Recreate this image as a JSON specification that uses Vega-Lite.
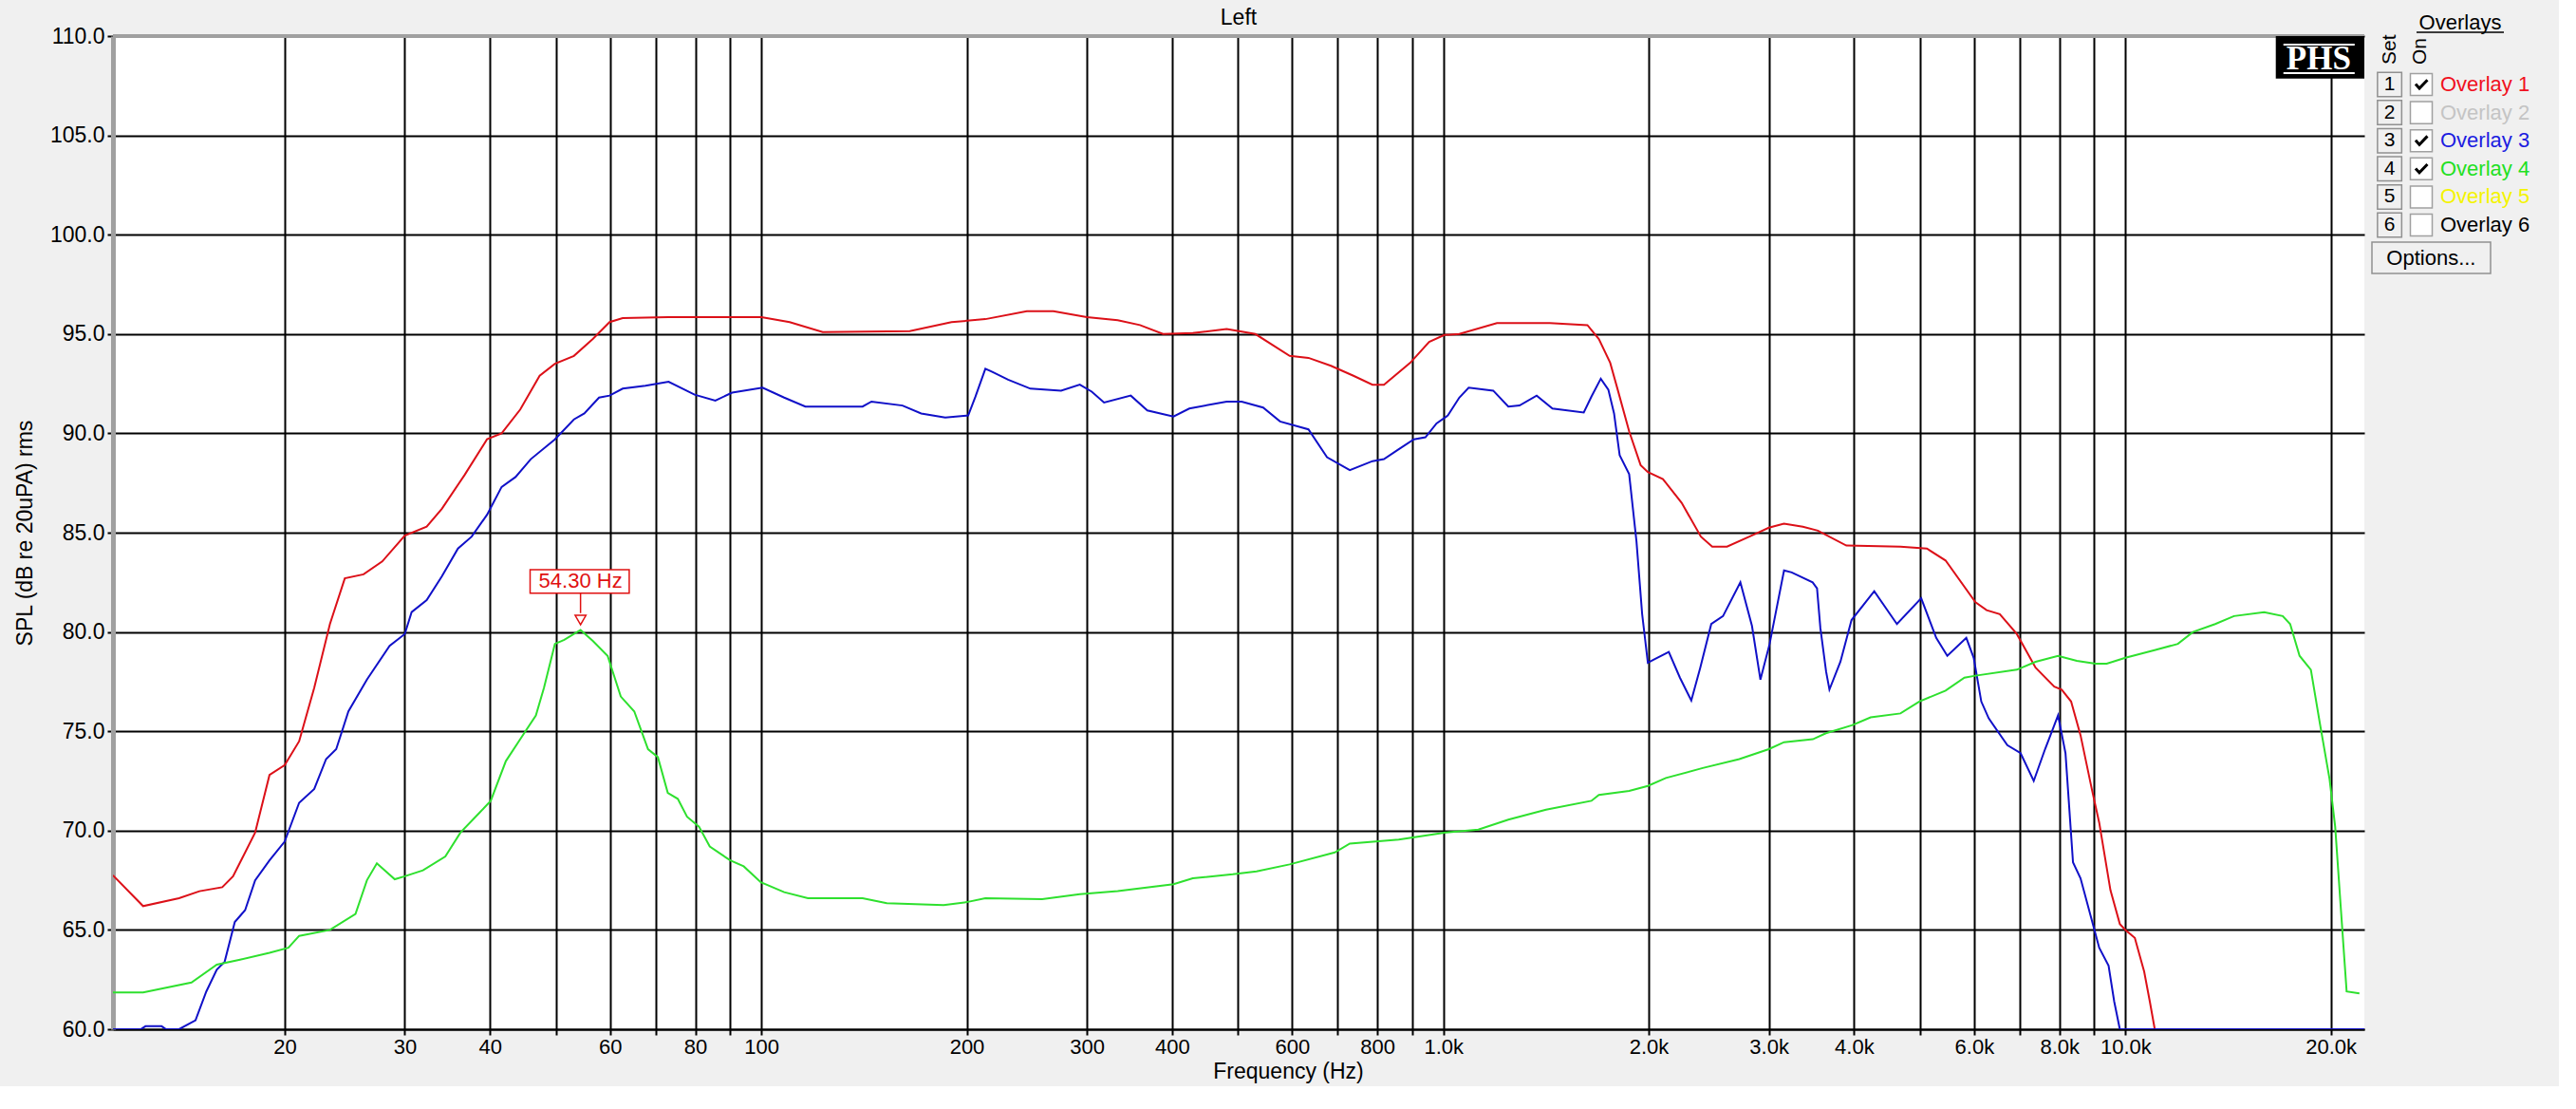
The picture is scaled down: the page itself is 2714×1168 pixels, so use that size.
{
  "$schema": "https://vega.github.io/schema/vega-lite/v6.json",
  "background": "#f0f0f0",
  "padding": {"left": 15, "top": 8, "right": 5, "bottom": 4},
  "bounds": "flush",
  "spacing": 0,
  "config": {"font": "Liberation Sans", "view": {"stroke": null}},
  "resolve": {"scale": {"color": "independent", "x": "independent", "y": "independent"}},
  "datasets": {
    "curves": [
      {"s": "Overlay 1", "f": 11.2, "db": 67.75}, {"s": "Overlay 1", "f": 12.4, "db": 66.2}, {"s": "Overlay 1", "f": 14.0, "db": 66.6},
      {"s": "Overlay 1", "f": 15.0, "db": 66.95}, {"s": "Overlay 1", "f": 16.2, "db": 67.15}, {"s": "Overlay 1", "f": 16.8, "db": 67.7},
      {"s": "Overlay 1", "f": 18.1, "db": 69.9}, {"s": "Overlay 1", "f": 19.0, "db": 72.8}, {"s": "Overlay 1", "f": 20.0, "db": 73.3},
      {"s": "Overlay 1", "f": 21.0, "db": 74.5}, {"s": "Overlay 1", "f": 22.1, "db": 77.2}, {"s": "Overlay 1", "f": 23.3, "db": 80.4},
      {"s": "Overlay 1", "f": 24.5, "db": 82.7}, {"s": "Overlay 1", "f": 26.1, "db": 82.9}, {"s": "Overlay 1", "f": 27.8, "db": 83.55},
      {"s": "Overlay 1", "f": 30.0, "db": 84.85}, {"s": "Overlay 1", "f": 32.3, "db": 85.3}, {"s": "Overlay 1", "f": 34.0, "db": 86.2},
      {"s": "Overlay 1", "f": 36.7, "db": 87.9}, {"s": "Overlay 1", "f": 39.6, "db": 89.7}, {"s": "Overlay 1", "f": 41.6, "db": 90.0},
      {"s": "Overlay 1", "f": 44.3, "db": 91.2}, {"s": "Overlay 1", "f": 47.3, "db": 92.9}, {"s": "Overlay 1", "f": 49.8, "db": 93.5},
      {"s": "Overlay 1", "f": 53.1, "db": 93.9}, {"s": "Overlay 1", "f": 56.6, "db": 94.75}, {"s": "Overlay 1", "f": 59.9, "db": 95.6},
      {"s": "Overlay 1", "f": 62.6, "db": 95.8}, {"s": "Overlay 1", "f": 73, "db": 95.85}, {"s": "Overlay 1", "f": 100, "db": 95.85},
      {"s": "Overlay 1", "f": 110, "db": 95.6}, {"s": "Overlay 1", "f": 123, "db": 95.1}, {"s": "Overlay 1", "f": 165, "db": 95.15},
      {"s": "Overlay 1", "f": 190, "db": 95.6}, {"s": "Overlay 1", "f": 213, "db": 95.75}, {"s": "Overlay 1", "f": 245, "db": 96.15},
      {"s": "Overlay 1", "f": 268, "db": 96.15}, {"s": "Overlay 1", "f": 300, "db": 95.85}, {"s": "Overlay 1", "f": 333, "db": 95.7},
      {"s": "Overlay 1", "f": 359, "db": 95.45}, {"s": "Overlay 1", "f": 388, "db": 95.0}, {"s": "Overlay 1", "f": 429, "db": 95.05},
      {"s": "Overlay 1", "f": 481, "db": 95.25}, {"s": "Overlay 1", "f": 530, "db": 95.0}, {"s": "Overlay 1", "f": 595, "db": 93.9},
      {"s": "Overlay 1", "f": 634, "db": 93.8}, {"s": "Overlay 1", "f": 684, "db": 93.4}, {"s": "Overlay 1", "f": 738, "db": 92.9},
      {"s": "Overlay 1", "f": 787, "db": 92.45}, {"s": "Overlay 1", "f": 818, "db": 92.45}, {"s": "Overlay 1", "f": 894, "db": 93.55},
      {"s": "Overlay 1", "f": 953, "db": 94.6}, {"s": "Overlay 1", "f": 1003, "db": 94.95}, {"s": "Overlay 1", "f": 1055, "db": 95.0},
      {"s": "Overlay 1", "f": 1198, "db": 95.55}, {"s": "Overlay 1", "f": 1432, "db": 95.55}, {"s": "Overlay 1", "f": 1626, "db": 95.45},
      {"s": "Overlay 1", "f": 1690, "db": 94.75}, {"s": "Overlay 1", "f": 1756, "db": 93.55}, {"s": "Overlay 1", "f": 1801, "db": 92.2},
      {"s": "Overlay 1", "f": 1872, "db": 90.1}, {"s": "Overlay 1", "f": 1946, "db": 88.4}, {"s": "Overlay 1", "f": 1994, "db": 88.05},
      {"s": "Overlay 1", "f": 2098, "db": 87.7}, {"s": "Overlay 1", "f": 2235, "db": 86.5}, {"s": "Overlay 1", "f": 2385, "db": 84.8},
      {"s": "Overlay 1", "f": 2478, "db": 84.3}, {"s": "Overlay 1", "f": 2605, "db": 84.3}, {"s": "Overlay 1", "f": 2850, "db": 84.9},
      {"s": "Overlay 1", "f": 3000, "db": 85.25}, {"s": "Overlay 1", "f": 3157, "db": 85.45}, {"s": "Overlay 1", "f": 3365, "db": 85.3},
      {"s": "Overlay 1", "f": 3540, "db": 85.1}, {"s": "Overlay 1", "f": 3897, "db": 84.35}, {"s": "Overlay 1", "f": 4678, "db": 84.3},
      {"s": "Overlay 1", "f": 5115, "db": 84.2}, {"s": "Overlay 1", "f": 5448, "db": 83.6}, {"s": "Overlay 1", "f": 6027, "db": 81.5},
      {"s": "Overlay 1", "f": 6258, "db": 81.1}, {"s": "Overlay 1", "f": 6543, "db": 80.9}, {"s": "Overlay 1", "f": 6929, "db": 79.9},
      {"s": "Overlay 1", "f": 7383, "db": 78.2}, {"s": "Overlay 1", "f": 7864, "db": 77.25}, {"s": "Overlay 1", "f": 8063, "db": 77.1},
      {"s": "Overlay 1", "f": 8323, "db": 76.5}, {"s": "Overlay 1", "f": 8593, "db": 74.8}, {"s": "Overlay 1", "f": 8925, "db": 72.1},
      {"s": "Overlay 1", "f": 9152, "db": 70.4}, {"s": "Overlay 1", "f": 9506, "db": 67.0}, {"s": "Overlay 1", "f": 9812, "db": 65.3},
      {"s": "Overlay 1", "f": 10000, "db": 65.0}, {"s": "Overlay 1", "f": 10321, "db": 64.6}, {"s": "Overlay 1", "f": 10652, "db": 62.9},
      {"s": "Overlay 1", "f": 10857, "db": 61.4}, {"s": "Overlay 1", "f": 11040, "db": 60.0},

      {"s": "Overlay 3", "f": 11.2, "db": 60.0}, {"s": "Overlay 3", "f": 12.3, "db": 60.0}, {"s": "Overlay 3", "f": 12.5, "db": 60.15},
      {"s": "Overlay 3", "f": 13.2, "db": 60.15}, {"s": "Overlay 3", "f": 13.4, "db": 60.0}, {"s": "Overlay 3", "f": 14.0, "db": 60.0},
      {"s": "Overlay 3", "f": 14.8, "db": 60.45}, {"s": "Overlay 3", "f": 15.35, "db": 61.9}, {"s": "Overlay 3", "f": 15.9, "db": 63.0},
      {"s": "Overlay 3", "f": 16.33, "db": 63.4}, {"s": "Overlay 3", "f": 16.9, "db": 65.4}, {"s": "Overlay 3", "f": 17.5, "db": 66.0},
      {"s": "Overlay 3", "f": 18.1, "db": 67.5}, {"s": "Overlay 3", "f": 19.0, "db": 68.5}, {"s": "Overlay 3", "f": 20.0, "db": 69.45},
      {"s": "Overlay 3", "f": 21.0, "db": 71.4}, {"s": "Overlay 3", "f": 22.1, "db": 72.1}, {"s": "Overlay 3", "f": 23.0, "db": 73.6},
      {"s": "Overlay 3", "f": 23.8, "db": 74.1}, {"s": "Overlay 3", "f": 24.8, "db": 76.0}, {"s": "Overlay 3", "f": 26.4, "db": 77.6},
      {"s": "Overlay 3", "f": 28.5, "db": 79.3}, {"s": "Overlay 3", "f": 30.0, "db": 79.9}, {"s": "Overlay 3", "f": 30.7, "db": 81.0},
      {"s": "Overlay 3", "f": 32.3, "db": 81.6}, {"s": "Overlay 3", "f": 34.0, "db": 82.8}, {"s": "Overlay 3", "f": 35.9, "db": 84.2},
      {"s": "Overlay 3", "f": 37.6, "db": 84.8}, {"s": "Overlay 3", "f": 39.6, "db": 85.9}, {"s": "Overlay 3", "f": 41.6, "db": 87.3},
      {"s": "Overlay 3", "f": 43.6, "db": 87.8}, {"s": "Overlay 3", "f": 45.9, "db": 88.7}, {"s": "Overlay 3", "f": 49.8, "db": 89.7},
      {"s": "Overlay 3", "f": 53.1, "db": 90.7}, {"s": "Overlay 3", "f": 55.0, "db": 91.0}, {"s": "Overlay 3", "f": 57.8, "db": 91.8},
      {"s": "Overlay 3", "f": 59.9, "db": 91.9}, {"s": "Overlay 3", "f": 62.6, "db": 92.25}, {"s": "Overlay 3", "f": 67.6, "db": 92.4},
      {"s": "Overlay 3", "f": 73.1, "db": 92.6}, {"s": "Overlay 3", "f": 79.8, "db": 91.95}, {"s": "Overlay 3", "f": 85.6, "db": 91.65},
      {"s": "Overlay 3", "f": 90.6, "db": 92.05}, {"s": "Overlay 3", "f": 100.4, "db": 92.3}, {"s": "Overlay 3", "f": 108, "db": 91.8},
      {"s": "Overlay 3", "f": 116, "db": 91.35}, {"s": "Overlay 3", "f": 140.7, "db": 91.35}, {"s": "Overlay 3", "f": 145, "db": 91.6},
      {"s": "Overlay 3", "f": 161, "db": 91.4}, {"s": "Overlay 3", "f": 171.5, "db": 91.0}, {"s": "Overlay 3", "f": 186, "db": 90.8},
      {"s": "Overlay 3", "f": 201, "db": 90.9}, {"s": "Overlay 3", "f": 206, "db": 91.85}, {"s": "Overlay 3", "f": 213, "db": 93.25},
      {"s": "Overlay 3", "f": 218, "db": 93.1}, {"s": "Overlay 3", "f": 230, "db": 92.7}, {"s": "Overlay 3", "f": 248, "db": 92.25},
      {"s": "Overlay 3", "f": 275, "db": 92.15}, {"s": "Overlay 3", "f": 293, "db": 92.45}, {"s": "Overlay 3", "f": 305, "db": 92.1},
      {"s": "Overlay 3", "f": 318, "db": 91.55}, {"s": "Overlay 3", "f": 348, "db": 91.9}, {"s": "Overlay 3", "f": 368, "db": 91.15},
      {"s": "Overlay 3", "f": 402, "db": 90.85}, {"s": "Overlay 3", "f": 424, "db": 91.25}, {"s": "Overlay 3", "f": 481, "db": 91.6},
      {"s": "Overlay 3", "f": 506, "db": 91.6}, {"s": "Overlay 3", "f": 544, "db": 91.3}, {"s": "Overlay 3", "f": 576, "db": 90.6},
      {"s": "Overlay 3", "f": 634, "db": 90.2}, {"s": "Overlay 3", "f": 675, "db": 88.8}, {"s": "Overlay 3", "f": 729, "db": 88.15},
      {"s": "Overlay 3", "f": 787, "db": 88.6}, {"s": "Overlay 3", "f": 818, "db": 88.7}, {"s": "Overlay 3", "f": 860, "db": 89.2},
      {"s": "Overlay 3", "f": 905, "db": 89.7}, {"s": "Overlay 3", "f": 941, "db": 89.8}, {"s": "Overlay 3", "f": 977, "db": 90.5},
      {"s": "Overlay 3", "f": 1015, "db": 90.9}, {"s": "Overlay 3", "f": 1055, "db": 91.8}, {"s": "Overlay 3", "f": 1089, "db": 92.3},
      {"s": "Overlay 3", "f": 1183, "db": 92.15}, {"s": "Overlay 3", "f": 1245, "db": 91.35}, {"s": "Overlay 3", "f": 1293, "db": 91.4},
      {"s": "Overlay 3", "f": 1370, "db": 91.9}, {"s": "Overlay 3", "f": 1445, "db": 91.25}, {"s": "Overlay 3", "f": 1606, "db": 91.05},
      {"s": "Overlay 3", "f": 1648, "db": 91.85}, {"s": "Overlay 3", "f": 1701, "db": 92.75}, {"s": "Overlay 3", "f": 1745, "db": 92.2},
      {"s": "Overlay 3", "f": 1779, "db": 91.0}, {"s": "Overlay 3", "f": 1813, "db": 88.9}, {"s": "Overlay 3", "f": 1872, "db": 87.95},
      {"s": "Overlay 3", "f": 1919, "db": 84.55}, {"s": "Overlay 3", "f": 1956, "db": 80.9}, {"s": "Overlay 3", "f": 1994, "db": 78.45},
      {"s": "Overlay 3", "f": 2032, "db": 78.6}, {"s": "Overlay 3", "f": 2140, "db": 79.0}, {"s": "Overlay 3", "f": 2222, "db": 77.7},
      {"s": "Overlay 3", "f": 2309, "db": 76.55}, {"s": "Overlay 3", "f": 2380, "db": 78.2}, {"s": "Overlay 3", "f": 2470, "db": 80.4},
      {"s": "Overlay 3", "f": 2570, "db": 80.8}, {"s": "Overlay 3", "f": 2725, "db": 82.5}, {"s": "Overlay 3", "f": 2834, "db": 80.3},
      {"s": "Overlay 3", "f": 2916, "db": 77.6}, {"s": "Overlay 3", "f": 3008, "db": 79.4}, {"s": "Overlay 3", "f": 3158, "db": 83.1},
      {"s": "Overlay 3", "f": 3241, "db": 83.0}, {"s": "Overlay 3", "f": 3478, "db": 82.5}, {"s": "Overlay 3", "f": 3530, "db": 82.2},
      {"s": "Overlay 3", "f": 3570, "db": 80.2}, {"s": "Overlay 3", "f": 3640, "db": 78.0}, {"s": "Overlay 3", "f": 3681, "db": 77.1},
      {"s": "Overlay 3", "f": 3820, "db": 78.5}, {"s": "Overlay 3", "f": 3966, "db": 80.6}, {"s": "Overlay 3", "f": 4282, "db": 82.05},
      {"s": "Overlay 3", "f": 4623, "db": 80.4}, {"s": "Overlay 3", "f": 5018, "db": 81.7}, {"s": "Overlay 3", "f": 5279, "db": 79.7},
      {"s": "Overlay 3", "f": 5480, "db": 78.8}, {"s": "Overlay 3", "f": 5843, "db": 79.7}, {"s": "Overlay 3", "f": 5991, "db": 78.7},
      {"s": "Overlay 3", "f": 6146, "db": 76.5}, {"s": "Overlay 3", "f": 6303, "db": 75.65}, {"s": "Overlay 3", "f": 6711, "db": 74.3},
      {"s": "Overlay 3", "f": 7018, "db": 73.9}, {"s": "Overlay 3", "f": 7337, "db": 72.5}, {"s": "Overlay 3", "f": 7623, "db": 74.1},
      {"s": "Overlay 3", "f": 7965, "db": 75.8}, {"s": "Overlay 3", "f": 8167, "db": 73.9}, {"s": "Overlay 3", "f": 8377, "db": 68.4},
      {"s": "Overlay 3", "f": 8593, "db": 67.6}, {"s": "Overlay 3", "f": 8925, "db": 65.5}, {"s": "Overlay 3", "f": 9152, "db": 64.1},
      {"s": "Overlay 3", "f": 9446, "db": 63.2}, {"s": "Overlay 3", "f": 9627, "db": 61.4}, {"s": "Overlay 3", "f": 9812, "db": 60.0},
      {"s": "Overlay 3", "f": 22400, "db": 60.0},

      {"s": "Overlay 4", "f": 11.2, "db": 61.85}, {"s": "Overlay 4", "f": 12.4, "db": 61.85}, {"s": "Overlay 4", "f": 14.6, "db": 62.35},
      {"s": "Overlay 4", "f": 15.9, "db": 63.25}, {"s": "Overlay 4", "f": 17.2, "db": 63.5}, {"s": "Overlay 4", "f": 19.0, "db": 63.85},
      {"s": "Overlay 4", "f": 20.25, "db": 64.1}, {"s": "Overlay 4", "f": 21.0, "db": 64.7}, {"s": "Overlay 4", "f": 23.3, "db": 65.0},
      {"s": "Overlay 4", "f": 25.4, "db": 65.8}, {"s": "Overlay 4", "f": 26.4, "db": 67.5}, {"s": "Overlay 4", "f": 27.3, "db": 68.35},
      {"s": "Overlay 4", "f": 29.0, "db": 67.55}, {"s": "Overlay 4", "f": 30.0, "db": 67.7}, {"s": "Overlay 4", "f": 31.9, "db": 68.0},
      {"s": "Overlay 4", "f": 34.4, "db": 68.7}, {"s": "Overlay 4", "f": 36.2, "db": 69.9}, {"s": "Overlay 4", "f": 38.6, "db": 70.9},
      {"s": "Overlay 4", "f": 40.1, "db": 71.5}, {"s": "Overlay 4", "f": 42.2, "db": 73.5}, {"s": "Overlay 4", "f": 44.3, "db": 74.6},
      {"s": "Overlay 4", "f": 46.7, "db": 75.8}, {"s": "Overlay 4", "f": 48.0, "db": 77.2}, {"s": "Overlay 4", "f": 49.8, "db": 79.4},
      {"s": "Overlay 4", "f": 51.4, "db": 79.6}, {"s": "Overlay 4", "f": 54.3, "db": 80.1}, {"s": "Overlay 4", "f": 56.6, "db": 79.55},
      {"s": "Overlay 4", "f": 59.5, "db": 78.8}, {"s": "Overlay 4", "f": 62.2, "db": 76.75}, {"s": "Overlay 4", "f": 65.1, "db": 76.0},
      {"s": "Overlay 4", "f": 68.2, "db": 74.1}, {"s": "Overlay 4", "f": 70.5, "db": 73.7}, {"s": "Overlay 4", "f": 72.9, "db": 71.9},
      {"s": "Overlay 4", "f": 75.4, "db": 71.6}, {"s": "Overlay 4", "f": 77.8, "db": 70.7}, {"s": "Overlay 4", "f": 81, "db": 70.2},
      {"s": "Overlay 4", "f": 84, "db": 69.2}, {"s": "Overlay 4", "f": 90, "db": 68.5}, {"s": "Overlay 4", "f": 94.2, "db": 68.2},
      {"s": "Overlay 4", "f": 99.8, "db": 67.4}, {"s": "Overlay 4", "f": 108, "db": 66.9}, {"s": "Overlay 4", "f": 117, "db": 66.6},
      {"s": "Overlay 4", "f": 140.7, "db": 66.6}, {"s": "Overlay 4", "f": 152.7, "db": 66.35}, {"s": "Overlay 4", "f": 185, "db": 66.25},
      {"s": "Overlay 4", "f": 200, "db": 66.4}, {"s": "Overlay 4", "f": 213, "db": 66.6}, {"s": "Overlay 4", "f": 258, "db": 66.55},
      {"s": "Overlay 4", "f": 293, "db": 66.8}, {"s": "Overlay 4", "f": 333, "db": 66.95}, {"s": "Overlay 4", "f": 402, "db": 67.3},
      {"s": "Overlay 4", "f": 429, "db": 67.6}, {"s": "Overlay 4", "f": 491, "db": 67.8}, {"s": "Overlay 4", "f": 532, "db": 67.95},
      {"s": "Overlay 4", "f": 595, "db": 68.3}, {"s": "Overlay 4", "f": 693, "db": 68.9}, {"s": "Overlay 4", "f": 729, "db": 69.35},
      {"s": "Overlay 4", "f": 860, "db": 69.55}, {"s": "Overlay 4", "f": 1003, "db": 69.9}, {"s": "Overlay 4", "f": 1125, "db": 70.05},
      {"s": "Overlay 4", "f": 1245, "db": 70.55}, {"s": "Overlay 4", "f": 1414, "db": 71.05}, {"s": "Overlay 4", "f": 1648, "db": 71.5},
      {"s": "Overlay 4", "f": 1690, "db": 71.8}, {"s": "Overlay 4", "f": 1872, "db": 72.0}, {"s": "Overlay 4", "f": 1994, "db": 72.25},
      {"s": "Overlay 4", "f": 2119, "db": 72.65}, {"s": "Overlay 4", "f": 2400, "db": 73.15}, {"s": "Overlay 4", "f": 2715, "db": 73.6},
      {"s": "Overlay 4", "f": 3000, "db": 74.1}, {"s": "Overlay 4", "f": 3158, "db": 74.45}, {"s": "Overlay 4", "f": 3480, "db": 74.6},
      {"s": "Overlay 4", "f": 3637, "db": 74.9}, {"s": "Overlay 4", "f": 3970, "db": 75.3}, {"s": "Overlay 4", "f": 4230, "db": 75.7},
      {"s": "Overlay 4", "f": 4678, "db": 75.9}, {"s": "Overlay 4", "f": 4986, "db": 76.5}, {"s": "Overlay 4", "f": 5448, "db": 77.05},
      {"s": "Overlay 4", "f": 5806, "db": 77.7}, {"s": "Overlay 4", "f": 6027, "db": 77.8}, {"s": "Overlay 4", "f": 6929, "db": 78.1},
      {"s": "Overlay 4", "f": 7383, "db": 78.5}, {"s": "Overlay 4", "f": 7965, "db": 78.8}, {"s": "Overlay 4", "f": 8486, "db": 78.55},
      {"s": "Overlay 4", "f": 9040, "db": 78.4}, {"s": "Overlay 4", "f": 9386, "db": 78.4}, {"s": "Overlay 4", "f": 10000, "db": 78.7},
      {"s": "Overlay 4", "f": 11065, "db": 79.1}, {"s": "Overlay 4", "f": 11937, "db": 79.4}, {"s": "Overlay 4", "f": 12557, "db": 80.0},
      {"s": "Overlay 4", "f": 13539, "db": 80.4}, {"s": "Overlay 4", "f": 14424, "db": 80.8}, {"s": "Overlay 4", "f": 15970, "db": 81.0},
      {"s": "Overlay 4", "f": 17007, "db": 80.8}, {"s": "Overlay 4", "f": 17437, "db": 80.4}, {"s": "Overlay 4", "f": 18001, "db": 78.8},
      {"s": "Overlay 4", "f": 18700, "db": 78.1}, {"s": "Overlay 4", "f": 19300, "db": 75.3}, {"s": "Overlay 4", "f": 19917, "db": 72.6},
      {"s": "Overlay 4", "f": 20300, "db": 70.2}, {"s": "Overlay 4", "f": 20700, "db": 66.0}, {"s": "Overlay 4", "f": 21100, "db": 61.9},
      {"s": "Overlay 4", "f": 22030, "db": 61.8}
    ],
    "panel": [
      {"row": 1, "num": "1", "name": "Overlay 1", "on": 1},
      {"row": 2, "num": "2", "name": "Overlay 2", "on": 0},
      {"row": 3, "num": "3", "name": "Overlay 3", "on": 1},
      {"row": 4, "num": "4", "name": "Overlay 4", "on": 1},
      {"row": 5, "num": "5", "name": "Overlay 5", "on": 0},
      {"row": 6, "num": "6", "name": "Overlay 6", "on": 0}
    ]
  },
  "hconcat": [
    {
      "width": 2372,
      "height": 1046,
      "view": {"fill": "white", "stroke": null},
      "title": {"text": "Left", "fontSize": 23, "fontWeight": "normal", "color": "black", "offset": -4},
      "layer": [
        {
          "data": {"name": "curves"},
          "mark": {"type": "line", "strokeWidth": 2, "clip": true},
          "encoding": {
            "x": {
              "field": "f", "type": "quantitative",
              "scale": {"type": "log", "domain": [11.2, 22400], "nice": false},
              "axis": {
                "title": "Frequency (Hz)",
                "values": [20, 30, 40, 50, 60, 70, 80, 90, 100, 200, 300, 400, 500, 600, 700, 800, 900, 1000, 2000, 3000, 4000, 5000, 6000, 7000, 8000, 9000, 10000, 20000],
                "labelExpr": "indexof([20,30,40,60,80,100,200,300,400,600,800,1000,2000,3000,4000,6000,8000,10000,20000], datum.value) < 0 ? '' : (datum.value >= 1000 ? format(datum.value / 1000, '.1f') + 'k' : format(datum.value, 'd'))",
                "labelFontSize": 22, "labelColor": "black", "labelPadding": 2, "labelOverlap": false, "labelFlush": false,
                "grid": true, "gridColor": "black", "gridWidth": 2, "gridOpacity": 1,
                "domainColor": "black", "domainWidth": 2,
                "tickColor": "black", "tickSize": 6, "tickWidth": 2,
                "titleFontSize": 23, "titleFontWeight": "normal", "titleColor": "black", "titlePadding": 4,
                "titleX": 1238, "titleAlign": "center"
              }
            },
            "y": {
              "field": "db", "type": "quantitative",
              "scale": {"domain": [60, 110], "nice": false, "zero": false},
              "axis": {
                "title": "SPL (dB re 20uPA) rms",
                "values": [60, 65, 70, 75, 80, 85, 90, 95, 100, 105, 110],
                "format": ".1f",
                "labelFontSize": 23, "labelColor": "black", "labelPadding": 3,
                "grid": true, "gridColor": "black", "gridWidth": 2, "gridOpacity": 1,
                "domainColor": "#a0a0a0", "domainWidth": 5,
                "tickColor": "black", "tickSize": 6, "tickWidth": 2,
                "titleFontSize": 23, "titleFontWeight": "normal", "titleColor": "black", "titlePadding": 14
              }
            },
            "color": {
              "field": "s", "type": "nominal",
              "scale": {"domain": ["Overlay 1", "Overlay 3", "Overlay 4"], "range": ["#dc1018", "#1010c8", "#2ee02e"]},
              "legend": null
            }
          }
        },
        {
          "data": {"values": [{}]},
          "mark": {"type": "rule", "color": "#a0a0a0", "strokeWidth": 4},
          "encoding": {"y": {"datum": 110}}
        },
        {
          "data": {"values": [{}]},
          "mark": {"type": "rect", "color": "black"},
          "encoding": {"x": {"datum": 16612}, "x2": {"datum": 22400}, "y": {"datum": 110}, "y2": {"datum": 107.86}}
        },
        {
          "data": {"values": [{"yy": 109.57}, {"yy": 108.14}]},
          "mark": {"type": "rule", "color": "white", "strokeWidth": 2},
          "encoding": {"x": {"datum": 17045}, "x2": {"datum": 21680}, "y": {"field": "yy", "type": "quantitative"}}
        },
        {
          "data": {"values": [{"t": "PHS"}]},
          "mark": {"type": "text", "color": "white", "font": "Liberation Serif", "fontWeight": "bold", "fontSize": 35, "align": "center", "baseline": "middle"},
          "encoding": {"x": {"datum": 19200}, "y": {"datum": 108.85}, "text": {"field": "t"}}
        },
        {
          "data": {"values": [{}]},
          "mark": {"type": "rect", "fill": "white", "stroke": "#e01010", "strokeWidth": 1.5},
          "encoding": {"x": {"datum": 45.8}, "x2": {"datum": 64.0}, "y": {"datum": 83.14}, "y2": {"datum": 81.95}}
        },
        {
          "data": {"values": [{"t": "54.30 Hz"}]},
          "mark": {"type": "text", "color": "#e01010", "fontSize": 22, "align": "center", "baseline": "middle"},
          "encoding": {"x": {"datum": 54.3}, "y": {"datum": 82.55}, "text": {"field": "t"}}
        },
        {
          "data": {"values": [{}]},
          "mark": {"type": "rule", "color": "#e01010", "strokeWidth": 1.5},
          "encoding": {"x": {"datum": 54.3}, "y": {"datum": 81.95}, "y2": {"datum": 80.95}}
        },
        {
          "data": {"values": [{}]},
          "mark": {"type": "point", "shape": "triangle-down", "size": 130, "filled": false, "stroke": "#e01010", "strokeWidth": 1.5, "opacity": 1},
          "encoding": {"x": {"datum": 54.3}, "y": {"datum": 80.6}}
        }
      ]
    },
    {
      "width": 200,
      "height": 300,
      "layer": [
        {
          "data": {"name": "panel"},
          "mark": {"type": "point", "shape": "square", "size": 650, "filled": true, "fill": "#f0f0f0", "stroke": "#909090", "strokeWidth": 1.5, "opacity": 1},
          "encoding": {
            "x": {"datum": 1.33, "scale": {"domain": [0, 10]}, "axis": null},
            "y": {"field": "row", "type": "quantitative", "scale": {"domain": [-0.723, 9.41], "reverse": true}, "axis": null}
          }
        },
        {
          "data": {"name": "panel"},
          "mark": {"type": "text", "fontSize": 21, "color": "black", "align": "center", "baseline": "middle"},
          "encoding": {
            "x": {"datum": 1.33, "scale": {"domain": [0, 10]}, "axis": null},
            "y": {"field": "row", "type": "quantitative", "scale": {"domain": [-0.723, 9.41], "reverse": true}, "axis": null},
            "text": {"field": "num"}
          }
        },
        {
          "data": {"name": "panel"},
          "mark": {"type": "point", "shape": "square", "size": 530, "filled": true, "fill": "white", "stroke": "#a0a0a0", "strokeWidth": 1.5, "opacity": 1},
          "encoding": {
            "x": {"datum": 3.0, "scale": {"domain": [0, 10]}, "axis": null},
            "y": {"field": "row", "type": "quantitative", "scale": {"domain": [-0.723, 9.41], "reverse": true}, "axis": null}
          }
        },
        {
          "data": {"name": "panel"},
          "transform": [{"filter": "datum.on == 1"}],
          "mark": {"type": "point", "shape": "M -0.75 -0.05 L -0.25 0.5 L 0.8 -0.6", "size": 260, "filled": false, "stroke": "black", "strokeWidth": 3, "opacity": 1},
          "encoding": {
            "x": {"datum": 3.0, "scale": {"domain": [0, 10]}, "axis": null},
            "y": {"field": "row", "type": "quantitative", "scale": {"domain": [-0.723, 9.41], "reverse": true}, "axis": null}
          }
        },
        {
          "data": {"name": "panel"},
          "mark": {"type": "text", "fontSize": 22, "align": "left", "baseline": "middle"},
          "encoding": {
            "x": {"datum": 4.0, "scale": {"domain": [0, 10]}, "axis": null},
            "y": {"field": "row", "type": "quantitative", "scale": {"domain": [-0.723, 9.41], "reverse": true}, "axis": null},
            "text": {"field": "name"},
            "color": {
              "field": "name", "type": "nominal",
              "scale": {"domain": ["Overlay 1", "Overlay 2", "Overlay 3", "Overlay 4", "Overlay 5", "Overlay 6"], "range": ["#f01020", "#c4c4c4", "#1c1ce0", "#22e022", "#f4f400", "#000000"]},
              "legend": null
            }
          }
        },
        {
          "data": {"values": [{"t": "Overlays"}]},
          "mark": {"type": "text", "fontSize": 22, "color": "black", "align": "center", "baseline": "middle"},
          "encoding": {
            "x": {"datum": 5.05, "scale": {"domain": [0, 10]}, "axis": null},
            "y": {"datum": -1.196, "scale": {"domain": [-0.723, 9.41], "reverse": true}, "axis": null},
            "text": {"field": "t"}
          }
        },
        {
          "data": {"values": [{}]},
          "mark": {"type": "rule", "color": "black", "strokeWidth": 1.5},
          "encoding": {
            "x": {"datum": 2.75, "scale": {"domain": [0, 10]}, "axis": null},
            "x2": {"datum": 7.35},
            "y": {"datum": -0.86, "scale": {"domain": [-0.723, 9.41], "reverse": true}, "axis": null}
          }
        },
        {
          "data": {"values": [{"t": "Set", "c": 1.35}, {"t": "On", "c": 2.95}]},
          "mark": {"type": "text", "fontSize": 21, "color": "black", "align": "left", "baseline": "middle", "angle": 270},
          "encoding": {
            "x": {"field": "c", "type": "quantitative", "scale": {"domain": [0, 10]}, "axis": null},
            "y": {"datum": 0.29, "scale": {"domain": [-0.723, 9.41], "reverse": true}, "axis": null},
            "text": {"field": "t"}
          }
        },
        {
          "data": {"values": [{}]},
          "mark": {"type": "rect", "fill": "#f0f0f0", "stroke": "#909090", "strokeWidth": 1.5},
          "encoding": {
            "x": {"datum": 0.4, "scale": {"domain": [0, 10]}, "axis": null},
            "x2": {"datum": 6.65},
            "y": {"datum": 6.61, "scale": {"domain": [-0.723, 9.41], "reverse": true}, "axis": null},
            "y2": {"datum": 7.72}
          }
        },
        {
          "data": {"values": [{"t": "Options..."}]},
          "mark": {"type": "text", "fontSize": 22, "color": "black", "align": "center", "baseline": "middle"},
          "encoding": {
            "x": {"datum": 3.52, "scale": {"domain": [0, 10]}, "axis": null},
            "y": {"datum": 7.17, "scale": {"domain": [-0.723, 9.41], "reverse": true}, "axis": null},
            "text": {"field": "t"}
          }
        }
      ]
    }
  ]
}
